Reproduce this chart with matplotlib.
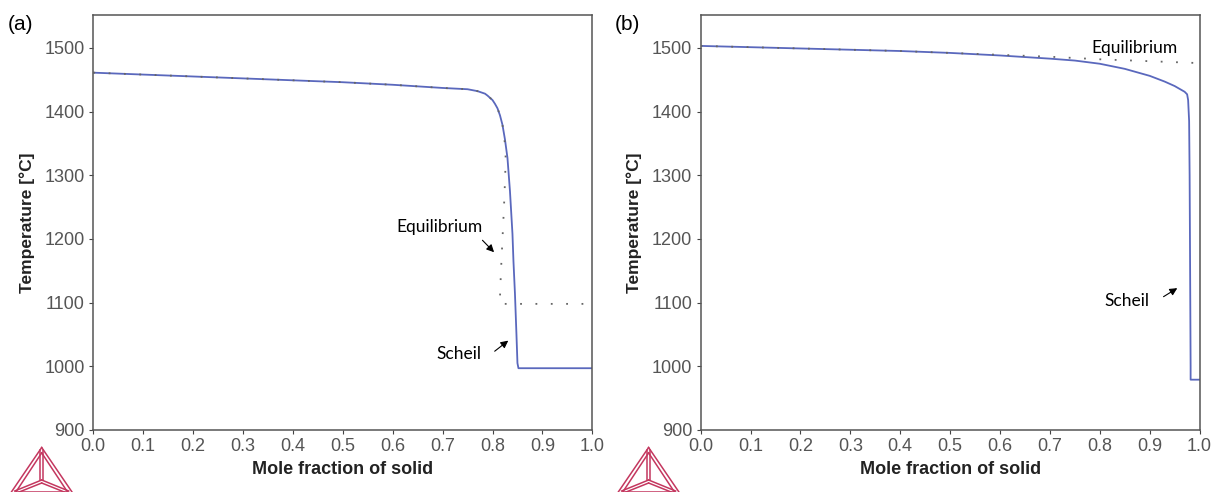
"""Scheil vs equilibrium solidification curves, two alloys (a) and (b)"""
import matplotlib
matplotlib.use('Agg')
import matplotlib.pyplot as plt
from matplotlib.lines import Line2D

plt.rcParams['font.family'] = ['Liberation Sans', 'DejaVu Sans']

# panel (a)
scheil_a_x = [0.0, 0.1, 0.2, 0.3, 0.4, 0.5, 0.6, 0.7, 0.75, 0.77, 0.785, 0.79, 0.80,
              0.805, 0.81, 0.815, 0.82, 0.825, 0.83, 0.835, 0.84, 0.842, 0.845, 0.848,
              0.85, 0.852, 1.0]
scheil_a_t = [1461, 1458, 1455, 1452, 1449, 1446, 1442, 1437, 1435, 1432, 1428, 1425, 1418,
              1412, 1405, 1394, 1379, 1356, 1327, 1275, 1208, 1165, 1114, 1050,
              1005, 997, 997]
equil_a_x = [0.0, 0.1, 0.2, 0.3, 0.4, 0.5, 0.6, 0.7, 0.75, 0.77, 0.785, 0.79, 0.80,
             0.805, 0.81, 0.815, 0.82, 0.8265, 0.8255, 0.823, 0.820, 0.817, 0.8145, 1.0]
equil_a_t = [1461, 1458, 1455, 1452, 1449, 1446, 1442, 1437, 1435, 1432, 1428, 1425, 1418,
             1412, 1405, 1394, 1379, 1340, 1300, 1250, 1200, 1150, 1098, 1098]

# panel (b)
scheil_b_x = [0.0, 0.1, 0.2, 0.3, 0.4, 0.5, 0.6, 0.7, 0.75, 0.8, 0.85, 0.9, 0.93, 0.95,
              0.97, 0.975, 0.977, 0.979, 0.980, 0.981, 0.982, 0.982, 1.0]
scheil_b_t = [1503, 1501, 1499, 1497, 1495, 1492, 1488, 1483, 1480, 1475, 1467, 1456, 1447, 1440,
              1431, 1427, 1418, 1385, 1300, 1150, 1000, 979, 979]
equil_b_x = [0.0, 0.1, 0.2, 0.3, 0.4, 0.5, 0.6, 0.7, 0.8, 0.9, 1.0]
equil_b_t = [1503, 1501, 1499, 1497, 1495, 1492, 1489, 1486, 1482, 1479, 1476]

xticks = [round(0.1 * i, 1) for i in range(11)]
yticks = [900, 1000, 1100, 1200, 1300, 1400, 1500]

panels = [
    dict(tag='(a)', sx=scheil_a_x, st=scheil_a_t, ex=equil_a_x, et=equil_a_t,
         eq_txt=(0.694, 1219), eq_arr=((0.776, 1201), (0.807, 1176)),
         sc_txt=(0.732, 1020), sc_arr=((0.80, 1021), (0.836, 1043))),
    dict(tag='(b)', sx=scheil_b_x, st=scheil_b_t, ex=equil_b_x, et=equil_b_t,
         eq_txt=(0.87, 1499), eq_arr=None,
         sc_txt=(0.854, 1103), sc_arr=((0.923, 1107), (0.96, 1125))),
]

W, H = 1220, 492
fig = plt.figure(figsize=(W / 100, H / 100), dpi=100)
lefts = [93.3, 700.6]
ax_w, ax_top, ax_bot = 499, 14.7, 430

logo_col = '#c4375f'
note_font = ['Lato', 'DejaVu Sans']

for p, left in zip(panels, lefts):
    ax = fig.add_axes([left / W, 1 - ax_bot / H, ax_w / W, (ax_bot - ax_top) / H])
    ax.plot(p['sx'], p['st'], color='#5a68bd', lw=1.3, zorder=2)
    ax.plot(p['ex'], p['et'], color='#666666', lw=1.3, ls=(0, (1, 7.5)), zorder=3)
    ax.set_xlim(0, 1); ax.set_ylim(900, 1552)
    ax.set_xticks(xticks); ax.set_yticks(yticks)
    ax.set_xticklabels([f'{v:.1f}' for v in xticks])
    ax.tick_params(direction='out', length=3, width=0.8, color='#444444',
                   labelcolor='#555555', labelsize=13, pad=3)
    for s in ax.spines.values():
        s.set_color('#555555'); s.set_linewidth(1.1)
    ax.set_xlabel('Mole fraction of solid', fontsize=13, fontweight='bold', color='#222222', labelpad=4)
    ax.set_ylabel('Temperature [°C]', fontsize=12.5, fontweight='bold', color='#222222', labelpad=7)

    ax.text(*p['eq_txt'], 'Equilibrium', family=note_font, fontsize=12.5, ha='center', va='center')
    ax.text(*p['sc_txt'], 'Scheil', family=note_font, fontsize=12.5, ha='center', va='center')
    for arr in (p['eq_arr'], p['sc_arr']):
        if arr is None:
            continue
        ax.annotate('', xy=arr[1], xytext=arr[0],
                    arrowprops=dict(arrowstyle='-|>', color='black', lw=0.8, mutation_scale=11))

    # panel tag
    fig.text((left - 86) / W, 1 - 25 / H, p['tag'], fontsize=15, ha='left', va='center')

    # Thermo-Calc style triangle logo, bottom left
    cx = left - 51.6 if p['tag'] == '(a)' else left - 52
    apex = (cx, 447.5)
    bl, br = (cx - 31, 493), (cx + 31, 493)
    ctr = (cx, 480)
    segs = []
    for d in (0, 3.0):
        a2 = (cx, apex[1] + d * 1.8)
        b2 = (bl[0] + d * 1.7, bl[1] - d * 0.3)
        c2 = (br[0] - d * 1.7, br[1] - d * 0.3)
        segs += [(a2, b2), (a2, c2), (b2, c2)]
    segs += [((cx - 1.5, apex[1] + 2), (cx - 1.5, ctr[1])), ((cx + 1.5, apex[1] + 2), (cx + 1.5, ctr[1])),
             (ctr, (bl[0] + 4, bl[1] - 2)), ((ctr[0], ctr[1] + 3), (bl[0] + 6, bl[1])),
             (ctr, (br[0] - 4, br[1] - 2)), ((ctr[0], ctr[1] + 3), (br[0] - 6, br[1]))]
    for (x0, y0), (x1, y1) in segs:
        fig.add_artist(Line2D([x0 / W, x1 / W], [1 - y0 / H, 1 - y1 / H],
                              color=logo_col, lw=1.1, transform=fig.transFigure))

fig.savefig('out.png', dpi=100)
